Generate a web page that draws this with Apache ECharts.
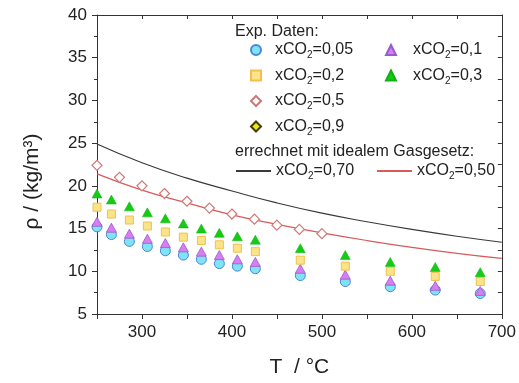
<!DOCTYPE html>
<html><head><meta charset="utf-8">
<script src="https://cdn.jsdelivr.net/npm/echarts@6/dist/echarts.min.js"></script>
<style>html,body{margin:0;padding:0;background:#fff}#c{width:519px;height:383px}</style>
</head><body><div id="c"></div>
<script>
// ---- data ----
const T_exp = [250, 266, 286, 306, 326, 346, 366, 386, 406, 426, 476, 526, 576, 626, 676];
const rho_x005 = [15.2, 14.3, 13.5, 12.9, 12.4, 11.9, 11.4, 10.9, 10.6, 10.3, 9.5, 8.8, 8.2, 7.8, 7.4];
const rho_x01  = [15.8, 15.1, 14.4, 13.8, 13.3, 12.8, 12.3, 11.9, 11.4, 11.1, 10.3, 9.6, 8.9, 8.3, 7.7];
const rho_x02  = [17.5, 16.7, 16.0, 15.3, 14.6, 14.0, 13.6, 13.1, 12.7, 12.3, 11.3, 10.6, 10.0, 9.4, 8.8];
const rho_x03  = [19.1, 18.4, 17.6, 16.9, 16.2, 15.6, 15.0, 14.5, 14.1, 13.7, 12.7, 11.9, 11.1, 10.5, 9.9];
const T_x05 = [250, 275, 300, 325, 350, 375, 400, 425, 450, 475, 500];
const rho_x05 = [22.4, 21.0, 20.0, 19.1, 18.2, 17.4, 16.7, 16.1, 15.4, 14.9, 14.4];
const T_x09 = [];
const rho_x09 = [];
const T_calc = [250, 300, 350, 400, 450, 500, 550, 600, 650, 700];
const rho_calc070 = [24.9, 22.7, 20.9, 19.4, 18.0, 16.8, 15.8, 14.9, 14.1, 13.4];
const rho_calc050 = [21.4, 19.5, 18.0, 16.6, 15.5, 14.5, 13.6, 12.8, 12.1, 11.5];
const xTicks = [300, 400, 500, 600, 700];
const yTicks = [5, 10, 15, 20, 25, 30, 35, 40];

const names = {
  x005: 'xCO2=0,05', x01: 'xCO2=0,1', x02: 'xCO2=0,2', x03: 'xCO2=0,3',
  x05: 'xCO2=0,5', x09: 'xCO2=0,9', c070: 'xCO2=0,70', c050: 'xCO2=0,50'
};
const zip = (xs, ys) => xs.map((x, i) => [x, ys[i]]);

const FONT = 'Liberation Sans';
const richLegend = {
  sub: { fontSize: 10, fontFamily: FONT, color: '#222', padding: [11, 0, 0, 0] }
};
const fmt = n => n.replace('CO2', 'CO{sub|2}');

const chart = echarts.init(document.getElementById('c'), null, { renderer: 'canvas' });
const axisLine = { show: true, lineStyle: { color: '#333', width: 1 } };
const legendText = pad => ({ fontFamily: FONT, fontSize: 16, color: '#222', rich: richLegend, padding: [0, 0, 0, pad] });
const baseLegend = {
  orient: 'vertical', itemWidth: 10, itemHeight: 10, itemGap: 7,
  formatter: fmt, selectedMode: false
};

chart.setOption({
  animation: false,
  backgroundColor: '#fff',
  textStyle: { fontFamily: FONT },
  grid: { left: 97, right: 16, top: 15, bottom: 67, containLabel: false },
  xAxis: [{
    type: 'value', min: 250, max: 700, interval: 50,
    name: 'T  / °C', nameLocation: 'middle', nameGap: 43,
    nameTextStyle: { fontSize: 21, color: '#222', fontFamily: FONT },
    axisLine: axisLine,
    axisTick: { show: true, inside: false, length: 5, lineStyle: { color: '#333' } },
    axisLabel: { fontSize: 17, color: '#222', margin: 10, fontFamily: FONT,
      formatter: v => xTicks.includes(v) ? String(v) : '' },
    splitLine: { show: false }
  }, {
    type: 'value', min: 250, max: 700, interval: 50, position: 'top',
    axisLine: axisLine,
    axisTick: { show: true, inside: true, length: 4, lineStyle: { color: '#333' } },
    axisLabel: { show: false }, splitLine: { show: false }
  }],
  yAxis: [{
    type: 'value', min: 5, max: 40, interval: 5,
    name: 'ρ / (kg/m³)', nameLocation: 'middle', nameGap: 54, nameRotate: 90,
    nameTextStyle: { fontSize: 21, color: '#222', fontFamily: FONT, padding: [0, 34, 0, 0] },
    axisLine: axisLine,
    axisTick: { show: true, inside: false, length: 5, lineStyle: { color: '#333' } },
    minorTick: { show: true, splitNumber: 2, length: 3, lineStyle: { color: '#333' } },
    axisLabel: { fontSize: 17, color: '#222', margin: 10, fontFamily: FONT,
      formatter: v => yTicks.includes(v) ? String(v) : '' },
    splitLine: { show: false }
  }, {
    type: 'value', min: 5, max: 40, interval: 2.5, position: 'right',
    axisLine: axisLine,
    axisTick: { show: true, inside: true, length: 4, lineStyle: { color: '#333' } },
    axisLabel: { show: false }, splitLine: { show: false }
  }],
  legend: [
    Object.assign({}, baseLegend, { left: 245, top: 37, textStyle: legendText(9),
      data: [names.x005, names.x02, names.x05, names.x09] }),
    Object.assign({}, baseLegend, { left: 380, top: 37, textStyle: legendText(12),
      data: [names.x01, names.x03] }),
    {
      orient: 'horizontal', left: 230, top: 158, itemWidth: 35, itemHeight: 10, itemGap: 22,
      formatter: fmt, selectedMode: false,
      itemStyle: { opacity: 0, borderWidth: 0 },
      textStyle: { fontFamily: FONT, fontSize: 16, color: '#222', rich: richLegend },
      data: [names.c070, names.c050]
    }
  ],
  graphic: [
    { type: 'text', left: 235, top: 24, style: { text: 'Exp. Daten:', font: '16px "Liberation Sans"', fill: '#222' } },
    { type: 'text', left: 235, top: 144, style: { text: 'errechnet mit idealem Gasgesetz:', font: '16px "Liberation Sans"', fill: '#222' } }
  ],
  series: [
    { name: names.c070, type: 'line', smooth: true, symbol: 'none', data: zip(T_calc, rho_calc070),
      lineStyle: { color: '#3a3a3a', width: 1.2 }, itemStyle: { color: '#3a3a3a' }, z: 1 },
    { name: names.c050, type: 'line', smooth: true, symbol: 'none', data: zip(T_calc, rho_calc050),
      lineStyle: { color: '#d85a5a', width: 1.2 }, itemStyle: { color: '#d85a5a' }, z: 1 },
    { name: names.x005, type: 'scatter', symbol: 'circle', symbolSize: 10, data: zip(T_exp, rho_x005),
      itemStyle: { color: '#7fe3f3', borderColor: '#4a86d8', borderWidth: 1, opacity: 1 }, z: 2 },
    { name: names.x01, type: 'scatter', symbol: 'triangle', symbolSize: [10, 9], data: zip(T_exp, rho_x01),
      itemStyle: { color: '#d77ef0', borderColor: '#9a5ad0', borderWidth: 0.8, opacity: 1 }, z: 3 },
    { name: names.x02, type: 'scatter', symbol: 'rect', symbolSize: 8, data: zip(T_exp, rho_x02),
      itemStyle: { color: '#fbe488', borderColor: '#f0bf50', borderWidth: 1, opacity: 1 }, z: 4 },
    { name: names.x03, type: 'scatter', symbol: 'triangle', symbolSize: [10, 9], data: zip(T_exp, rho_x03),
      itemStyle: { color: '#14cc14', borderColor: '#10b010', borderWidth: 0.5, opacity: 1 }, z: 5 },
    { name: names.x05, type: 'scatter', symbol: 'diamond', symbolSize: 10, data: zip(T_x05, rho_x05),
      itemStyle: { color: '#fff', borderColor: '#d07878', borderWidth: 1.2, opacity: 1 }, z: 6 },
    { name: names.x09, type: 'scatter', symbol: 'diamond', symbolSize: 10, data: zip(T_x09, rho_x09),
      itemStyle: { color: '#f2e612', borderColor: '#3c3c10', borderWidth: 1, opacity: 1 }, z: 6 }
  ]
});
</script></body></html>
